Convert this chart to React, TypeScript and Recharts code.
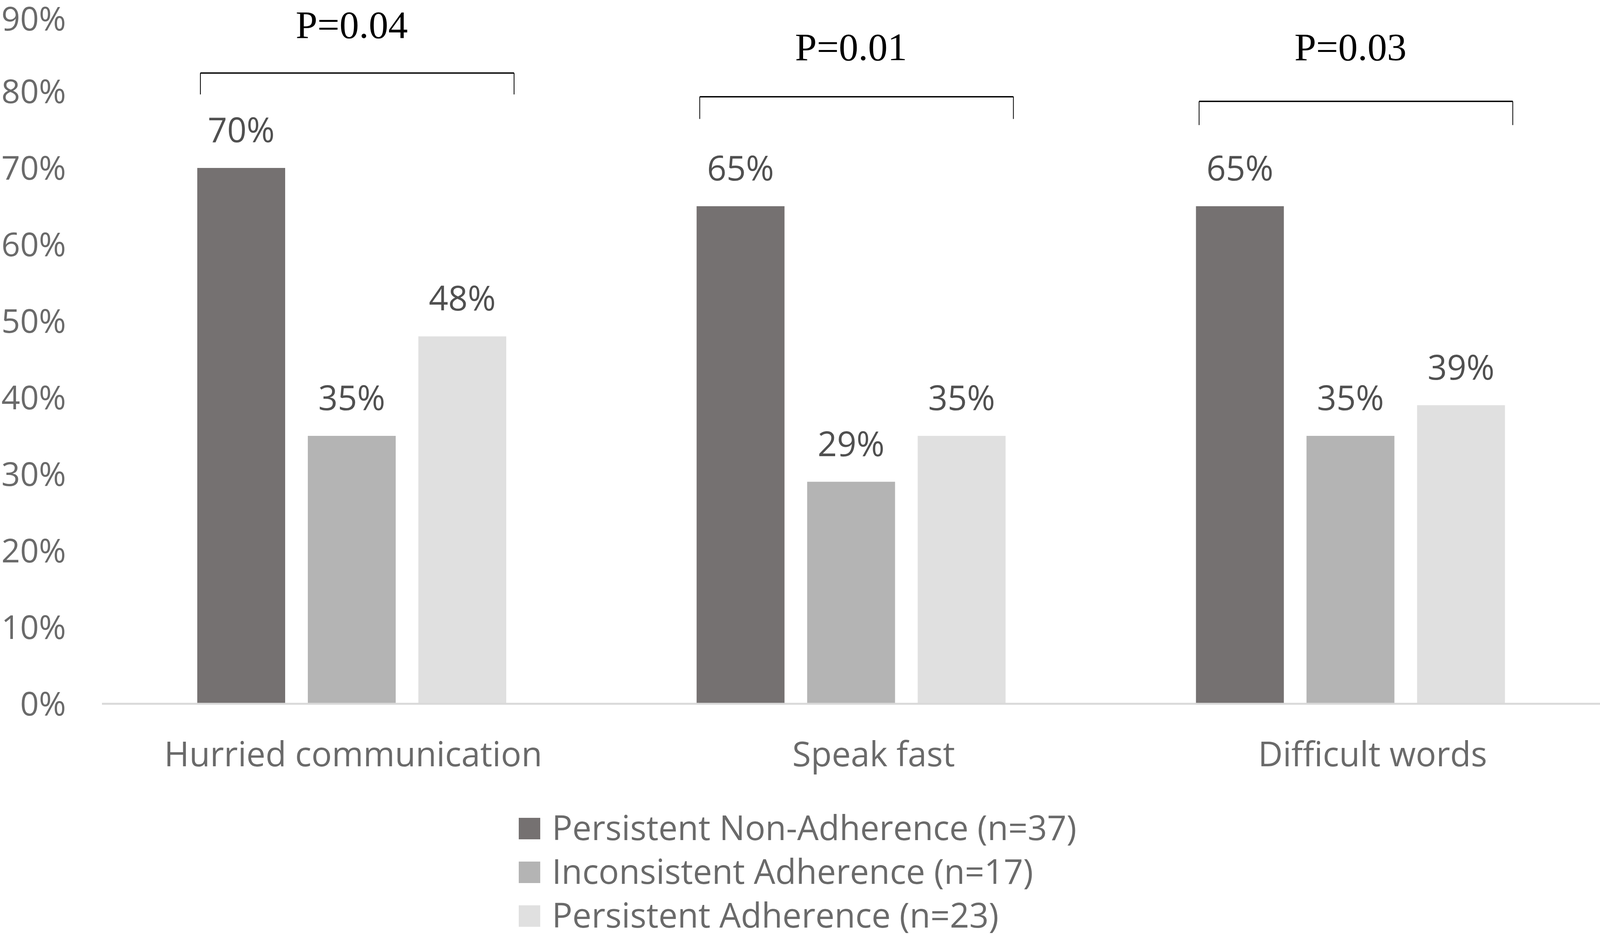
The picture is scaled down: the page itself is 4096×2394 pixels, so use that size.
import { Bar, BarChart, LabelList, Legend, XAxis, YAxis } from "recharts";

const categories = ["Hurried communication", "Speak fast", "Difficult words"];
const nonAdherence = [0.7, 0.65, 0.65];
const inconsistent = [0.35, 0.29, 0.35];
const adherence = [0.48, 0.35, 0.39];
const yTicks = [0, 0.1, 0.2, 0.3, 0.4, 0.5, 0.6, 0.7, 0.8, 0.9];

// significance brackets above each group (values in y-axis units)
const pLabels = ["P=0.04", "P=0.01", "P=0.03"];
const pLabelBaseline = [0.87, 0.841, 0.841];
const bracketTop = [0.824, 0.793, 0.787];
const bracketLegEnd = [0.796, 0.764, 0.756];

const SERIES = [
  { key: "nonAdherence", name: "Persistent Non-Adherence (n=37)", color: "#757171" },
  { key: "inconsistent", name: "Inconsistent Adherence (n=17)", color: "#b4b4b4" },
  { key: "adherence", name: "Persistent Adherence (n=23)", color: "#e0e0e0" },
];

const data = categories.map((name, i) => ({
  name,
  nonAdherence: nonAdherence[i],
  inconsistent: inconsistent[i],
  adherence: adherence[i],
}));

const W = 4096;
const H = 2394;
const BAR_SIZE = 225;
const BAR_GAP = 58;
const FONT = "'Open Sans', 'Noto Sans', sans-serif";
const AXIS_TEXT = "#6a6a6a";
const LABEL_TEXT = "#505050";
// the source nudges the 2nd and 3rd category labels a little to the right
const X_TICK_SHIFT = [4, 58, 57];

const pct = (v: number) => `${Math.round(v * 100)}%`;

function CategoryTick(props: any) {
  const { x, y, payload, index } = props;
  return (
    <text
      x={x + (X_TICK_SHIFT[index] ?? 0)}
      y={y}
      dy={62}
      textAnchor="middle"
      fill={AXIS_TEXT}
      fontSize={87}
      fontFamily={FONT}
    >
      {payload.value}
    </text>
  );
}

function Bracket(props: any) {
  const vb = props.viewBox ?? props;
  const { x, y, width, height } = vb;
  const i = props.index as number;
  const value = Number(props.value);
  if (!value || i == null) return null;
  const base = y + height;
  const unit = height / value;
  const left = x + 8;
  const right = x + 3 * width + 2 * BAR_GAP + 20;
  const top = base - bracketTop[i] * unit;
  const legEnd = base - bracketLegEnd[i] * unit;
  const textY = base - pLabelBaseline[i] * unit;
  const cx = x + (3 * width + 2 * BAR_GAP) / 2;
  return (
    <g>
      <line x1={left} y1={top} x2={right} y2={top} stroke="#000" strokeWidth={3.5} />
      <line x1={left} y1={top} x2={left} y2={legEnd} stroke="#000" strokeWidth={2} />
      <line x1={right} y1={top} x2={right} y2={legEnd} stroke="#000" strokeWidth={2} />
      <text x={cx} y={textY} textAnchor="middle" fill="#000" fontSize={100} fontFamily="'Liberation Serif', 'Times New Roman', serif">
        {pLabels[i]}
      </text>
    </g>
  );
}

function LegendBox() {
  return (
    <div style={{ fontFamily: FONT, fontSize: 87, color: AXIS_TEXT }}>
      {SERIES.map((s) => (
        <div key={s.key} style={{ display: "flex", alignItems: "center", height: 112, lineHeight: "112px", whiteSpace: "nowrap" }}>
          <span style={{ display: "inline-block", width: 55, height: 55, background: s.color, marginRight: 30, marginTop: 8 }} />
          <span>{s.name}</span>
        </div>
      ))}
    </div>
  );
}

export default function App() {
  return (
    <div style={{ position: "absolute", left: 0, top: 0, width: W, height: H, background: "#fff" }}>
      <BarChart
        width={W}
        height={H}
        data={data}
        margin={{ top: 38, right: 0, left: 0, bottom: 432 }}
        barSize={BAR_SIZE}
        barGap={BAR_GAP}
      >
        <XAxis
          dataKey="name"
          height={160}
          axisLine={{ stroke: "#d9d9d9", strokeWidth: 5 }}
          tickLine={false}
          tickSize={0}
          tickMargin={98}
          tick={<CategoryTick />}
        />
        <YAxis
          width={261}
          domain={[0, 0.9]}
          ticks={yTicks}
          tickFormatter={pct}
          axisLine={false}
          tickLine={false}
          tickSize={0}
          tickMargin={92}
          tick={{ fill: AXIS_TEXT, fontSize: 84, fontFamily: FONT }}
        />
        <Legend
          layout="vertical"
          align="center"
          verticalAlign="middle"
          content={() => <LegendBox />}
          wrapperStyle={{ left: 1328, top: 2061, width: "auto" }}
        />
        {SERIES.map((s, idx) => (
          <Bar key={s.key} dataKey={s.key} name={s.name} fill={s.color} isAnimationActive={false}>
            <LabelList
              dataKey={s.key}
              position="top"
              offset={66}
              formatter={(v: any) => pct(Number(v))}
              fill={LABEL_TEXT}
              fontSize={87}
              fontFamily={FONT}
            />
            {idx === 0 && <LabelList dataKey={s.key} content={Bracket} />}
          </Bar>
        ))}
      </BarChart>
    </div>
  );
}
